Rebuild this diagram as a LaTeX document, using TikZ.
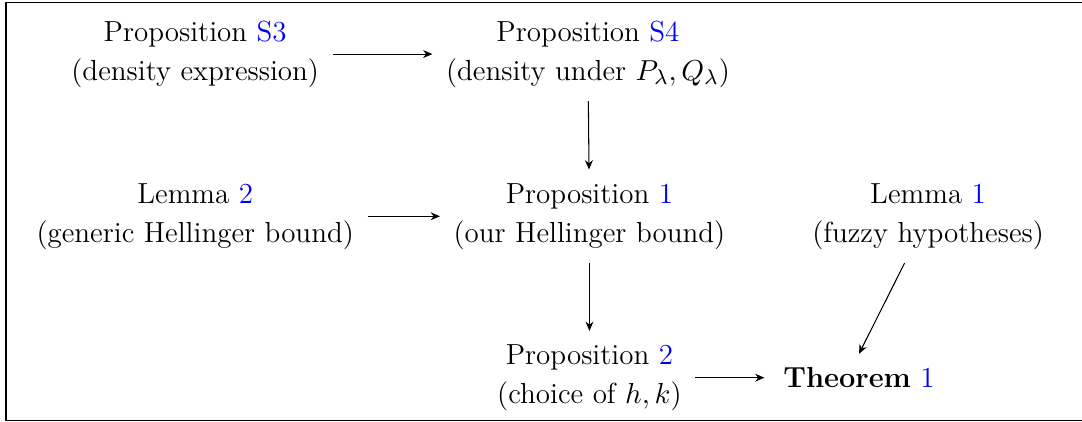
\documentclass[tikz,border=0pt]{standalone}
\usepackage{amsmath,amssymb}
\usepackage{xcolor}
\usetikzlibrary{arrows.meta,positioning}
\newcommand{\refb}[1]{\textcolor{blue}{#1}}
\tikzset{
  res/.style={align=center,font=\fontsize{11}{14.8}\selectfont,inner sep=5pt},
  arr/.style={-{Stealth[length=3.5pt,width=3pt]}},
}
\begin{document}
\begin{tikzpicture}[x=1cm,y=1cm]
  \useasboundingbox (0,0) rectangle (14.41,-5.62);
  \draw (0.08,-0.035) rectangle (14.6,-5.595);
  \node[res] (s3) at (2.60,-0.72) {Proposition \refb{S3}\\(density expression)};
  \node[res] (s4) at (7.83,-0.72) {Proposition \refb{S4}\\(density under $P_\lambda, Q_\lambda$)};
  \node[res] (lem2) at (2.60,-2.88) {Lemma \refb{2}\\(generic Hellinger bound)};
  \node[res] (prop1) at (7.85,-2.88) {Proposition \refb{1}\\(our Hellinger bound)};
  \node[res] (lem1) at (12.36,-2.88) {Lemma \refb{1}\\(fuzzy hypotheses)};
  \node[res] (prop2) at (7.85,-5.03) {Proposition \refb{2}\\(choice of $h,k$)};
  \node[res,inner xsep=7pt] (thm) at (11.44,-5.03) {\textbf{Theorem} \refb{1}};
  \draw[arr] (s3) -- (s4);
  \draw[arr] (s4) -- (prop1);
  \draw[arr] (lem2) -- (prop1);
  \draw[arr] (prop1) -- (prop2);
  \draw[arr] (prop2) -- (thm);
  \draw[arr] (lem1) -- (thm.north);
\end{tikzpicture}
\end{document}
